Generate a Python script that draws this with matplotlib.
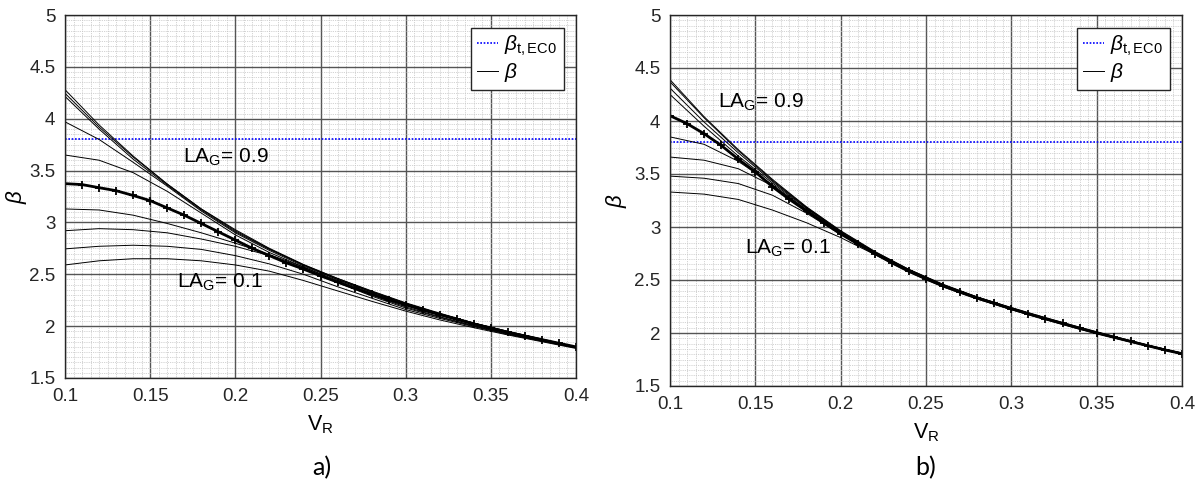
import numpy as np
import matplotlib
matplotlib.use("Agg")
import matplotlib.pyplot as plt
from matplotlib.ticker import MultipleLocator, FuncFormatter

plt.rcParams['font.family'] = ['Liberation Sans', 'DejaVu Sans']
plt.rcParams['mathtext.fontset'] = 'custom'
plt.rcParams['mathtext.rm'] = 'Liberation Sans'
plt.rcParams['mathtext.it'] = 'Liberation Sans:italic'
plt.rcParams['mathtext.bf'] = 'Liberation Sans:bold'

# V_R grid of the thin curves and of the bold (marked) curve
vr_thin = [0.10, 0.12, 0.14, 0.16, 0.18, 0.20, 0.22, 0.24,
           0.26, 0.28, 0.30, 0.32, 0.34, 0.36, 0.38, 0.40]
vr_bold = [0.10, 0.11, 0.12, 0.13, 0.14, 0.15, 0.16, 0.17, 0.18, 0.19, 0.20,
           0.21, 0.22, 0.23, 0.24, 0.25, 0.26, 0.27, 0.28, 0.29, 0.30,
           0.31, 0.32, 0.33, 0.34, 0.35, 0.36, 0.37, 0.38, 0.39, 0.40]

beta_target = 3.8

# panel a) thin curves, LA_G = 0.1 ... 0.9
beta_a_thin = [
    [2.59, 2.63, 2.65, 2.65, 2.63, 2.59, 2.53, 2.44, 2.34, 2.24, 2.145, 2.06, 1.985, 1.915, 1.85, 1.785],
    [2.745, 2.77, 2.78, 2.77, 2.74, 2.68, 2.60, 2.50, 2.38, 2.27, 2.16, 2.075, 1.995, 1.92, 1.855, 1.79],
    [2.92, 2.94, 2.93, 2.90, 2.84, 2.77, 2.68, 2.56, 2.42, 2.29, 2.175, 2.085, 2.00, 1.925, 1.86, 1.795],
    [3.13, 3.12, 3.07, 2.99, 2.90, 2.80, 2.69, 2.57, 2.43, 2.30, 2.185, 2.09, 2.005, 1.93, 1.86, 1.795],
    [3.65, 3.60, 3.48, 3.30, 3.09, 2.88, 2.71, 2.57, 2.44, 2.32, 2.21, 2.11, 2.02, 1.94, 1.87, 1.80],
    [3.97, 3.80, 3.58, 3.35, 3.11, 2.90, 2.73, 2.58, 2.45, 2.33, 2.21, 2.115, 2.025, 1.945, 1.87, 1.80],
    [4.215, 3.90, 3.61, 3.36, 3.12, 2.91, 2.74, 2.59, 2.45, 2.33, 2.22, 2.12, 2.03, 1.945, 1.87, 1.80],
    [4.245, 3.92, 3.63, 3.37, 3.13, 2.92, 2.745, 2.59, 2.46, 2.335, 2.22, 2.12, 2.03, 1.95, 1.875, 1.80],
    [4.28, 3.94, 3.64, 3.37, 3.13, 2.93, 2.75, 2.595, 2.46, 2.34, 2.225, 2.125, 2.03, 1.95, 1.875, 1.80],
]
beta_a_bold = [3.374, 3.365, 3.335, 3.306, 3.26, 3.21, 3.14, 3.07, 2.99, 2.91, 2.83,
               2.75, 2.68, 2.61, 2.55, 2.485, 2.425, 2.365, 2.31, 2.255, 2.205,
               2.155, 2.11, 2.065, 2.02, 1.98, 1.94, 1.905, 1.87, 1.835, 1.80]

# panel b)
beta_b_thin = [
    [3.33, 3.31, 3.26, 3.16, 3.04, 2.90, 2.74, 2.575, 2.435, 2.32, 2.22, 2.125, 2.035, 1.955, 1.875, 1.80],
    [3.48, 3.46, 3.41, 3.30, 3.13, 2.93, 2.745, 2.58, 2.44, 2.325, 2.22, 2.13, 2.04, 1.955, 1.875, 1.80],
    [3.66, 3.63, 3.55, 3.39, 3.16, 2.94, 2.75, 2.585, 2.445, 2.33, 2.225, 2.13, 2.04, 1.96, 1.88, 1.805],
    [3.85, 3.78, 3.62, 3.40, 3.165, 2.945, 2.755, 2.59, 2.45, 2.33, 2.23, 2.135, 2.045, 1.96, 1.88, 1.805],
    [4.25, 3.95, 3.67, 3.415, 3.175, 2.95, 2.76, 2.59, 2.45, 2.335, 2.23, 2.135, 2.045, 1.96, 1.88, 1.805],
    [4.31, 3.99, 3.70, 3.43, 3.18, 2.955, 2.76, 2.595, 2.455, 2.335, 2.235, 2.14, 2.05, 1.965, 1.885, 1.81],
    [4.37, 4.03, 3.72, 3.44, 3.185, 2.96, 2.765, 2.60, 2.455, 2.34, 2.235, 2.14, 2.05, 1.965, 1.885, 1.81],
    [4.39, 4.04, 3.73, 3.45, 3.19, 2.965, 2.77, 2.60, 2.46, 2.34, 2.24, 2.145, 2.055, 1.97, 1.885, 1.81],
]
beta_b_bold = [4.05, 3.975, 3.88, 3.77, 3.64, 3.52, 3.38, 3.26, 3.15, 3.04, 2.935,
               2.84, 2.75, 2.662, 2.582, 2.51, 2.444, 2.385, 2.33, 2.28, 2.23,
               2.18, 2.135, 2.09, 2.045, 2.00, 1.96, 1.92, 1.88, 1.84, 1.805]

fig = plt.figure(figsize=(12.02, 4.82), dpi=100)
ax_a = fig.add_axes([65 / 1202, 1 - 378 / 482, 511 / 1202, 363 / 482])
ax_b = fig.add_axes([670 / 1202, 1 - 386 / 482, 512 / 1202, 371 / 482])

fmt = FuncFormatter(lambda v, p: '%g' % round(v, 3))


def draw(ax, thin, bold, notes, tag, tag_x, ylab_x):
    ax.set_xlim(0.1, 0.4)
    ax.set_ylim(1.5, 5)
    ax.xaxis.set_major_locator(MultipleLocator(0.05))
    ax.xaxis.set_minor_locator(MultipleLocator(0.005))
    ax.yaxis.set_major_locator(MultipleLocator(0.5))
    ax.yaxis.set_minor_locator(MultipleLocator(0.05))
    ax.xaxis.set_major_formatter(fmt)
    ax.yaxis.set_major_formatter(fmt)
    ax.grid(which='major', color='#555555', lw=1.0, ls='-')
    ax.grid(which='minor', color='#c4c4c4', lw=0.6, ls=(0, (1, 1.2)))
    ax.set_axisbelow(True)
    ax.tick_params(which='both', direction='in', length=0, labelsize=13.5,
                   colors='#262626', pad=7)
    for s in ax.spines.values():
        s.set_color('#262626')
        s.set_linewidth(1.0)

    ax.axhline(beta_target, color='#0000ff', lw=1.2, ls=(0, (1, 1)),
               label=r'$\beta_{\mathregular{t,EC0}}$')
    for i, b in enumerate(thin):
        ax.plot(vr_thin, b, color='black', lw=0.7,
                label=r'$\beta$' if i == 0 else None)
    ax.plot(vr_bold, bold, color='black', lw=2.0, marker='+', ms=5.5, mew=1.3)

    for x, y, t in notes:
        ax.text(x, y, t, fontsize=15, ha='left', va='baseline')

    ax.set_xlabel(r'V$_{\mathregular{R}}$', fontsize=15.5, labelpad=6)
    ax.set_ylabel(r'$\beta$', fontsize=16)
    ax.yaxis.set_label_coords(ylab_x, 0.5)
    leg = ax.legend(loc='upper right', fontsize=15, handlelength=1.0,
                    handletextpad=0.3, borderaxespad=0.6, fancybox=False,
                    framealpha=1, edgecolor='#262626', borderpad=0.3,
                    labelspacing=0.15)
    leg.get_frame().set_linewidth(1.0)
    fig.text(tag_x, 1 - 468 / 482, tag, fontsize=18, family='Lato',
             ha='center', va='center')


draw(ax_a, beta_a_thin, beta_a_bold,
     [(0.169, 3.58, r'LA$_{\mathregular{G}}$= 0.9'),
      (0.166, 2.37, r'LA$_{\mathregular{G}}$= 0.1')],
     'a)', 322 / 1202, -0.07)
draw(ax_b, beta_b_thin, beta_b_bold,
     [(0.128, 4.13, r'LA$_{\mathregular{G}}$= 0.9'),
      (0.144, 2.745, r'LA$_{\mathregular{G}}$= 0.1')],
     'b)', 926 / 1202, -0.08)

fig.savefig('out.png', dpi=100)
